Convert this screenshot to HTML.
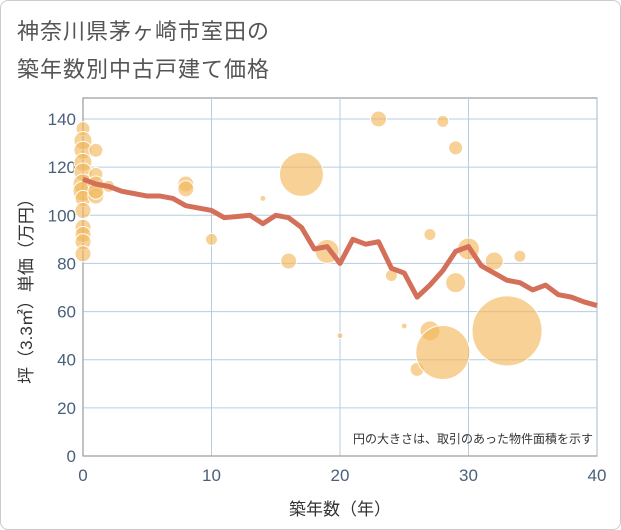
<!DOCTYPE html>
<html><head><meta charset="utf-8"><style>
body{margin:0;background:#fff;font-family:"Liberation Sans","Noto Sans CJK JP",sans-serif;}
#wrap{position:relative;width:619px;height:528px;border:1px solid #ccc;border-radius:8px;overflow:hidden;background:#fff}
.title{position:absolute;left:16px;font-size:22px;color:#555;letter-spacing:1px}
</style></head><body>
<div id="wrap">
<div class="title" style="top:13px">神奈川県茅ヶ崎市室田の</div>
<div class="title" style="top:51px">築年数別中古戸建て価格</div>
<svg id="chart" width="621" height="530" style="position:absolute;left:-1px;top:-1px"></svg>
</div>
<script>
const years=[0,1,2,3,4,5,6,7,8,9,10,11,12,13,14,15,16,17,18,19,20,21,22,23,24,25,26,27,28,29,30,31,32,33,34,35,36,37,38,39,40];
const avgPrice=[115,113,112,110,109,108,108,107,104,103,102,99,99.5,100,96.5,100,99,95,86,87,80,90,88,89,78,76,66,71,77,85,87,79,76,73,72,69,71,67,66,64,62.5];
const bubbleYear=[0,0,0,0,0,0,0,0,0,0,0,0,0,1,1,1,1,1,2,8,8,10,14,17,16,19,20,23,24,25,26,27,27,28,28,29,29,30,32,33,34];
const bubblePrice=[136,131,127,122,118,113,110,107,102,95,92,89,84,127,117,113,108,110,112,113,111,90,107,117,81,85,50,140,75,54,36,52,92,139,43,128,72,86,81,52,83];
const bubbleSize=[7,9,9,9,9,10,10,8,8,8,8,8,8,7,7,8,8,8,6,8,8,6,3,22,8,12,3,8,6,3,7,10,6,6,27,7,10,11,9,35,6];
const xTicks=[0,10,20,30,40];
const yTicks=[0,20,40,60,80,100,120,140];
const X0=83,X1=597,Y0=456,Y1=119,L=98;
const xs=v=>X0+(X1-X0)*v/40, ys=v=>Y0-(Y0-Y1)*v/140;
const svg=document.getElementById('chart'),NS='http://www.w3.org/2000/svg';
function mk(t,a,p){const e=document.createElementNS(NS,t);for(const k in a)e.setAttribute(k,a[k]);(p||svg).appendChild(e);return e;}
const frame=mk('rect',{x:X0,y:L,width:X1-X0,height:Y0-L,fill:'none',stroke:'#999','stroke-width':1.2});


yTicks.forEach(v=>{
const g=mk('line',{x1:X0,x2:X1,y1:ys(v),y2:ys(v),stroke:'#b8cce0','stroke-width':1});


const t=mk('text',{x:X0-7,y:ys(v)+6,'text-anchor':'end','font-size':17,fill:'#4a607a'});t.textContent=v;


});
xTicks.forEach(v=>{
const g=mk('line',{x1:xs(v),x2:xs(v),y1:L,y2:Y0,stroke:'#b8cce0','stroke-width':1});


const t=mk('text',{x:xs(v),y:Y0+25,'text-anchor':'middle','font-size':17,fill:'#4a607a'});t.textContent=v;


});
mk('line',{x1:X0,x2:X1,y1:Y0,y2:Y0,stroke:'#999'});
mk('line',{x1:X0,x2:X0,y1:L,y2:Y0,stroke:'#999'});
bubbleYear.forEach((y,i)=>{
const c=mk('circle',{cx:xs(y),cy:ys(bubblePrice[i]),r:bubbleSize[i],fill:'#f2b95e','fill-opacity':0.65,stroke:'#fff','stroke-width':1});


});
const pl=mk('polyline',{points:years.map((y,i)=>xs(y)+','+ys(avgPrice[i])).join(' '),fill:'none',stroke:'#d4705a','stroke-width':5,'stroke-linejoin':'round'});


const xt=mk('text',{x:340,y:515,'text-anchor':'middle','font-size':17,fill:'#333'});xt.textContent='築年数（年）';


const yt=mk('text',{x:0,y:0,'text-anchor':'middle','font-size':17,fill:'#333',transform:'translate(32,287) rotate(-90)'});yt.textContent='坪（3.3㎡）単価（万円）';


const nt=mk('text',{x:593,y:443,'text-anchor':'end','font-size':12,fill:'#333'});nt.textContent='円の大きさは、取引のあった物件面積を示す';


</script>
</body></html>
